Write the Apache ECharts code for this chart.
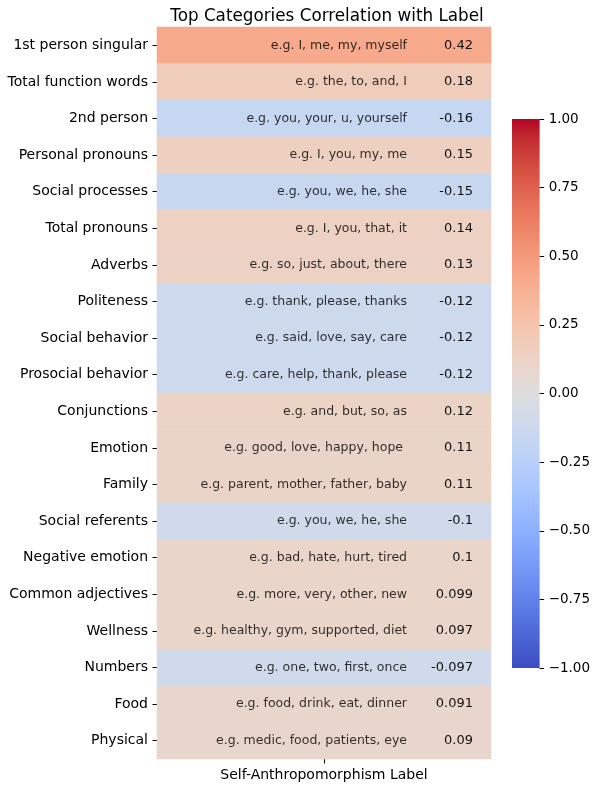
<!DOCTYPE html>
<html><head><meta charset="utf-8">
<script src="https://cdn.jsdelivr.net/npm/echarts@6/dist/echarts.min.js"></script>
<style>html,body{margin:0;padding:0;background:#fff}#c{width:593px;height:787px}</style>
</head><body><div id="c"></div>
<script>
const categories = ["1st person singular","Total function words","2nd person","Personal pronouns","Social processes","Total pronouns","Adverbs","Politeness","Social behavior","Prosocial behavior","Conjunctions","Emotion","Family","Social referents","Negative emotion","Common adjectives","Wellness","Numbers","Food","Physical"];
const values = [0.42,0.18,-0.16,0.15,-0.15,0.14,0.13,-0.12,-0.12,-0.12,0.12,0.11,0.11,-0.1,0.1,0.099,0.097,-0.097,0.091,0.09];
const examples = ["e.g. I, me, my, myself","e.g. the, to, and, I","e.g. you, your, u, yourself","e.g. I, you, my, me","e.g. you, we, he, she","e.g. I, you, that, it","e.g. so, just, about, there","e.g. thank, please, thanks","e.g. said, love, say, care","e.g. care, help, thank, please","e.g. and, but, so, as","e.g. good, love, happy, hope ","e.g. parent, mother, father, baby","e.g. you, we, he, she","e.g. bad, hate, hurt, tired","e.g. more, very, other, new","e.g. healthy, gym, supported, diet","e.g. one, two, first, once","e.g. food, drink, eat, dinner","e.g. medic, food, patients, eye"];
const xCategory = ["Self-Anthropomorphism Label"];
const colorbarTicks = [-1,-0.75,-0.5,-0.25,0,0.25,0.5,0.75,1];

const coolwarm = [[59,76,192],[68,90,204],[77,104,215],[87,117,225],[98,130,234],[108,142,241],[119,154,247],[130,165,251],[141,176,254],[152,185,255],[163,194,255],[174,201,253],[184,208,249],[194,213,244],[204,217,238],[213,219,230],[221,221,221],[229,216,209],[236,211,197],[241,204,185],[245,196,173],[247,187,160],[247,177,148],[247,166,135],[244,154,123],[241,141,111],[236,127,99],[229,112,88],[222,96,77],[213,80,66],[203,62,56],[192,40,47],[180,4,38]].map(c=>'rgb('+c.join(',')+')');

const n = coolwarm.length;
const barGradient = new echarts.graphic.LinearGradient(0,0,0,1,
  coolwarm.slice().reverse().map((c,i)=>({offset:i/(n-1),color:c})));

const FONT = 'DejaVu Sans';
const chart = echarts.init(document.getElementById('c'), null, {renderer:'canvas'});
chart.setOption({
  animation:false,
  title:{text:'Top Categories Correlation with Label',left:322,top:3,textAlign:'center',
    textStyle:{fontFamily:FONT,fontSize:16.8,fontWeight:'normal',color:'#000'}},
  grid:[
    {left:157,right:102,top:27,bottom:28},
    {left:512,width:28,top:119,height:549,show:true,backgroundColor:barGradient,borderWidth:0}
  ],
  xAxis:[
    {type:'category',data:xCategory,gridIndex:0,
      axisLine:{show:false},axisTick:{show:true,alignWithLabel:true,length:4.5,lineStyle:{color:'#000'}},
      axisLabel:{fontFamily:FONT,fontSize:14,color:'#000',margin:9},splitLine:{show:false}},
    {type:'value',gridIndex:1,show:false,min:0,max:1}
  ],
  yAxis:[
    {type:'category',data:categories,inverse:true,gridIndex:0,
      axisLine:{show:false},axisTick:{show:true,alignWithLabel:true,length:4.5,lineStyle:{color:'#000'}},
      axisLabel:{fontFamily:FONT,fontSize:14,color:'#000',margin:9},splitLine:{show:false}},
    {type:'value',gridIndex:1,position:'right',min:-1,max:1,interval:0.25,
      axisLine:{show:false,onZero:false},axisTick:{show:true,length:4.5,lineStyle:{color:'#000'}},splitLine:{show:false},
      axisLabel:{fontFamily:FONT,fontSize:13.5,color:'#000',margin:9,
        formatter:v=>(v<0?'\u2212':'')+Math.abs(v).toFixed(2)}}
  ],
  visualMap:{type:'continuous',show:false,min:-1,max:1,seriesIndex:0,
    inRange:{color:coolwarm}},
  series:[
    {type:'heatmap',xAxisIndex:0,yAxisIndex:0,
      data:values.map((v,i)=>[0,i,v]),
      label:{show:true,position:'inside',align:'right',offset:[149,0],
        formatter:p=>String(values[p.dataIndex]),
        fontFamily:FONT,fontSize:13,color:'#111'},
      emphasis:{disabled:true}},
    {type:'scatter',xAxisIndex:0,yAxisIndex:0,symbolSize:0,silent:true,
      data:examples.map((e,i)=>[0,i]),
      label:{show:true,position:'inside',align:'right',offset:[83,0],
        formatter:p=>examples[p.dataIndex],
        fontFamily:FONT,fontSize:12.5,color:'#000'}}
  ]
});
</script></body></html>
